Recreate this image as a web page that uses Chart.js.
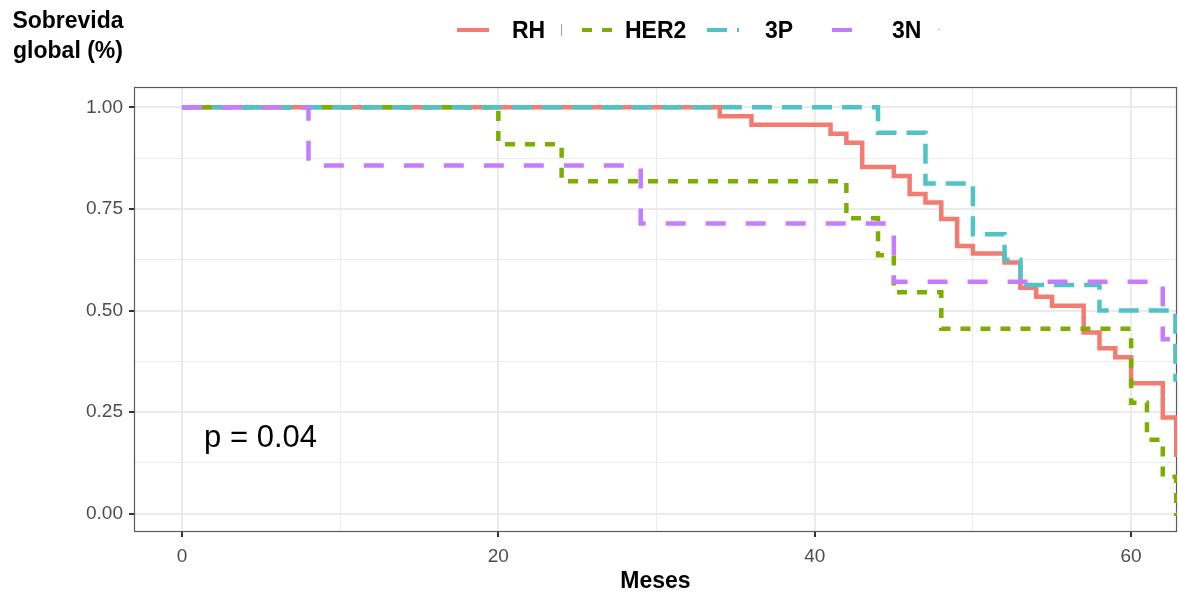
<!DOCTYPE html>
<html>
<head>
<meta charset="utf-8">
<script src="https://cdn.jsdelivr.net/npm/chart.js@4.4.0/dist/chart.umd.min.js"></script>
<style>
  html, body { margin: 0; padding: 0; background: #fff; }
  #wrap { position: relative; width: 1178px; height: 592px; font-family: "Liberation Sans", Arial, sans-serif; }
  #ytitle { position: absolute; left: 0; top: 5px; width: 136px; text-align: center; font-weight: bold; font-size: 23px; line-height: 30px; color: #000; }
  .key { position: absolute; top: 20px; }
  .lab { position: absolute; top: 16px; font-weight: bold; font-size: 23px; line-height: 28px; color: #000; }
  .mark { position: absolute; color: #999; font-size: 12px; }
  canvas { position: absolute; left: 0; top: 0; }
</style>
</head>
<body>
<div id="wrap">
  <canvas id="km" width="1178" height="592"></canvas>
  <div id="ytitle">Sobrevida<br>global (%)</div>
  <div id="legend"></div>
</div>
<script>
// Kaplan-Meier estimates (months, survival)
const groups = ["RH", "HER2", "3P", "3N"];
const colors = ["#F37B70", "#7CAE00", "#4FC3C6", "#C77CFF"];

const rhTime = [0, 34, 36, 41, 42, 43, 45, 46, 47, 48, 49, 50, 52, 53, 54, 55, 57, 58, 59, 60, 62, 62.85, 63.5];
const rhSurv = [1, 0.978, 0.957, 0.935, 0.913, 0.853, 0.831, 0.787, 0.766, 0.725, 0.659, 0.640, 0.618, 0.556, 0.534, 0.512, 0.446, 0.407, 0.385, 0.321, 0.237, 0.145, 0.145];

const her2Time = [0, 20, 24, 42, 44, 45, 48, 60, 61, 62, 62.85, 63.5];
const her2Surv = [1, 0.909, 0.818, 0.727, 0.636, 0.545, 0.455, 0.273, 0.182, 0.091, 0, 0];

const p3Time = [0, 44, 47, 50, 52, 53, 58, 62.8, 63.5];
const p3Surv = [1, 0.9375, 0.8125, 0.6875, 0.625, 0.5625, 0.5, 0.33, 0.33];

const n3Time = [0, 8, 29, 45, 62, 63.5];
const n3Surv = [1, 0.857, 0.714, 0.571, 0.429, 0.429];

const xTicks = [0, 10, 20, 30, 40, 50, 60];
const yTicks = [0, 0.125, 0.25, 0.375, 0.5, 0.625, 0.75, 0.875, 1];
const pLabel = "p = 0.04";

const series = [[rhTime, rhSurv], [her2Time, her2Surv], [p3Time, p3Surv], [n3Time, n3Surv]];
const dashes = [[], [10, 10], [20, 10], [20, 20]];

const font = "'Liberation Sans', Arial, sans-serif";

function toPoints(t, s) {
  return t.map((v, i) => ({ x: v, y: s[i] }));
}

const datasets = groups.map((g, i) => ({
  label: g,
  data: toPoints(series[i][0], series[i][1]),
  borderColor: colors[i],
  backgroundColor: colors[i],
  borderWidth: 4.5,
  borderDash: dashes[i],
  borderCapStyle: "butt",
  stepped: "before",
  pointRadius: 0,
  fill: false,
  order: groups.length - 1 - i, // 3N drawn on top, like the figure
}));

const isMajorX = (v) => v % 20 === 0;
const isMajorY = (v) => Math.abs(v * 4 - Math.round(v * 4)) < 1e-9;

// panel border + p-value text
const panelPlugin = {
  id: "panel",
  beforeDatasetsDraw(chart) {
    const { ctx, chartArea: a } = chart;
    ctx.save();
    ctx.strokeStyle = "#5a5a5a";
    ctx.lineWidth = 1.2;
    ctx.strokeRect(a.left + 0.5, a.top + 0.5, a.right - a.left - 1, a.bottom - a.top - 1);
    ctx.restore();
  },
  afterDatasetsDraw(chart) {
    const { ctx, scales } = chart;
    ctx.save();
    ctx.font = "31px " + font;
    ctx.fillStyle = "#000";
    ctx.textAlign = "left";
    ctx.textBaseline = "middle";
    ctx.fillText(pLabel, scales.x.getPixelForValue(1.4), scales.y.getPixelForValue(0.185));
    ctx.restore();
  },
};

new Chart(document.getElementById("km"), {
  type: "line",
  data: { datasets },
  plugins: [panelPlugin],
  options: {
    responsive: false,
    animation: false,
    layout: { padding: { top: 87, right: 1, left: 0, bottom: 0 } },
    plugins: { legend: { display: false }, tooltip: { enabled: false } },
    scales: {
      x: {
        type: "linear",
        min: -3.03,
        max: 62.9,
        afterBuildTicks: (scale) => { scale.ticks = xTicks.map((v) => ({ value: v })); },
        afterFit: (scale) => { scale.height = 60; },
        ticks: {
          color: "#4d4d4d",
          font: { family: font, size: 19 },
          padding: 8,
          maxRotation: 0,
          autoSkip: false,
          callback: (v) => (isMajorX(v) ? String(v) : ""),
        },
        grid: {
          color: "#ebebeb",
          lineWidth: (c) => (isMajorX(c.tick.value) ? 2 : 1),
          tickColor: (c) => (isMajorX(c.tick.value) ? "#333" : "rgba(0,0,0,0)"),
          tickWidth: 2,
          tickLength: 5,
        },
        border: { display: false },
        title: {
          display: true,
          text: "Meses",
          color: "#000",
          font: { family: font, size: 23, weight: "bold" },
          padding: { top: 0, bottom: -3 },
        },
      },
      y: {
        type: "linear",
        min: -0.045,
        max: 1.05,
        afterBuildTicks: (scale) => { scale.ticks = yTicks.map((v) => ({ value: v })); },
        afterFit: (scale) => { scale.width = 134; },
        ticks: {
          color: "#4d4d4d",
          font: { family: font, size: 19 },
          padding: 6,
          autoSkip: false,
          callback: (v) => (isMajorY(v) ? v.toFixed(2) : ""),
        },
        grid: {
          color: "#ebebeb",
          lineWidth: (c) => (isMajorY(c.tick.value) ? 2 : 1),
          tickColor: (c) => (isMajorY(c.tick.value) ? "#333" : "rgba(0,0,0,0)"),
          tickWidth: 2,
          tickLength: 5,
        },
        border: { display: false },
      },
    },
  },
});

// legend along the top, keys use the same dash pattern as the lines
const keyLeft = [457, 582, 707, 832];
const labLeft = [512, 625, 765, 892];
const legend = document.getElementById("legend");
groups.forEach((g, i) => {
  const svg = document.createElementNS("http://www.w3.org/2000/svg", "svg");
  svg.setAttribute("class", "key");
  svg.setAttribute("width", "32");
  svg.setAttribute("height", "20");
  svg.style.left = keyLeft[i] + "px";
  const ln = document.createElementNS("http://www.w3.org/2000/svg", "line");
  ln.setAttribute("x1", "0"); ln.setAttribute("x2", "32");
  ln.setAttribute("y1", "10"); ln.setAttribute("y2", "10");
  ln.setAttribute("stroke", colors[i]);
  ln.setAttribute("stroke-width", "4");
  if (dashes[i].length) ln.setAttribute("stroke-dasharray", dashes[i].join(" "));
  svg.appendChild(ln);
  legend.appendChild(svg);
  const lab = document.createElement("div");
  lab.className = "lab";
  lab.style.left = labLeft[i] + "px";
  lab.textContent = g;
  legend.appendChild(lab);
});
const tick = document.createElement("div");
tick.className = "mark";
tick.style.left = "560px"; tick.style.top = "22px";
tick.textContent = "|";
legend.appendChild(tick);
const dot = document.createElement("div");
dot.className = "mark";
dot.style.left = "937px"; dot.style.top = "22px";
dot.textContent = "·";
legend.appendChild(dot);
</script>
</body>
</html>
